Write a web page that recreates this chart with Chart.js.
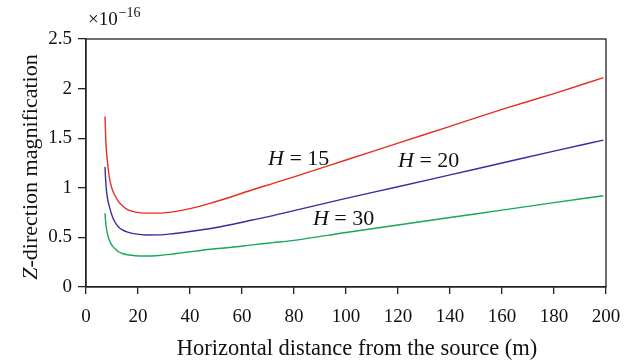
<!DOCTYPE html>
<html>
<head>
<meta charset="utf-8">
<script src="https://cdn.jsdelivr.net/npm/chart.js@4.4.1/dist/chart.umd.min.js"></script>
<style>
html,body{margin:0;padding:0;background:#fff;}
#wrap{width:634px;height:364px;position:relative;}
</style>
</head>
<body>
<div id="wrap"><canvas id="c" width="634" height="364"></canvas></div>
<script>
const distance = [7.3, 7.7, 8.3, 9, 10, 11, 12.5, 14, 16, 19, 23, 28, 34, 40, 48, 56, 64, 72, 80, 100, 120, 140, 160, 180, 199];
const h15 = [1.72, 1.43, 1.25, 1.10, 0.99, 0.93, 0.86, 0.82, 0.78, 0.755, 0.745, 0.745, 0.76, 0.79, 0.845, 0.91, 0.98, 1.045, 1.11, 1.28, 1.45, 1.62, 1.79, 1.95, 2.11];
const h20 = [1.21, 1.02, 0.89, 0.81, 0.72, 0.66, 0.605, 0.575, 0.553, 0.535, 0.524, 0.525, 0.54, 0.56, 0.59, 0.63, 0.675, 0.72, 0.77, 0.894, 1.01, 1.13, 1.25, 1.37, 1.48];
const h30 = [0.743, 0.62, 0.53, 0.47, 0.42, 0.39, 0.355, 0.338, 0.325, 0.315, 0.312, 0.318, 0.335, 0.355, 0.38, 0.40, 0.425, 0.447, 0.47, 0.55, 0.625, 0.70, 0.775, 0.85, 0.92];
const xTicks = [0, 20, 40, 60, 80, 100, 120, 140, 160, 180, 200];
const yTicks = [0, 0.5, 1, 1.5, 2, 2.5];
const seriesNames = ['H = 15', 'H = 20', 'H = 30'];
const labelPos = [{x: 70, y: 1.285}, {x: 120, y: 1.263}, {x: 87.3, y: 0.685}];

const FONT = '"Liberation Serif", "DejaVu Serif", serif';
const toPts = arr => arr.map((v, i) => ({x: distance[i], y: v}));

const decor = {
  id: 'decor',
  afterDatasetsDraw(chart) {
    const ctx = chart.ctx, a = chart.chartArea;
    const xs = chart.scales.x, ys = chart.scales.y;
    ctx.save();
    // box
    ctx.strokeStyle = '#222';
    ctx.lineWidth = 1.3;
    ctx.strokeRect(a.left, a.top, a.right - a.left, a.bottom - a.top);
    // series labels
    ctx.fillStyle = '#111';
    ctx.textBaseline = 'middle';
    ctx.textAlign = 'left';
    seriesNames.forEach((n, i) => {
      const px = xs.getPixelForValue(labelPos[i].x);
      const py = ys.getPixelForValue(labelPos[i].y);
      ctx.font = 'italic 22px ' + FONT;
      ctx.fillText('H', px, py);
      const w = ctx.measureText('H').width;
      ctx.font = '22px ' + FONT;
      ctx.fillText(n.slice(1), px + w, py);
    });
    // exponent
    ctx.textBaseline = 'alphabetic';
    ctx.font = '19px ' + FONT;
    ctx.fillText('\u00d710', 88, 25);
    const w10 = ctx.measureText('\u00d710').width;
    ctx.font = '14px ' + FONT;
    ctx.fillText('\u221216', 88 + w10 + 1, 17);
    // y title
    ctx.translate(31, 167);
    ctx.rotate(-Math.PI / 2);
    ctx.font = 'italic 22px ' + FONT;
    const zw = ctx.measureText('Z').width;
    ctx.font = '22px ' + FONT;
    const rest = '-direction magnification';
    const rw = ctx.measureText(rest).width;
    const start = -(zw + rw) / 2;
    ctx.textBaseline = 'middle';
    ctx.font = 'italic 22px ' + FONT;
    ctx.fillText('Z', start, 0);
    ctx.font = '22px ' + FONT;
    ctx.fillText(rest, start + zw, 0);
    ctx.restore();
    // x title
    ctx.save();
    ctx.fillStyle = '#111';
    ctx.font = '22.5px ' + FONT;
    ctx.textAlign = 'center';
    ctx.textBaseline = 'alphabetic';
    ctx.fillText('Horizontal distance from the source (m)', 357, 355);
    ctx.restore();
  }
};

const mk = (label, data, color) => ({
  label, data: toPts(data), borderColor: color, borderWidth: 1.4,
  pointRadius: 0, fill: false, cubicInterpolationMode: 'monotone'
});

new Chart(document.getElementById('c'), {
  type: 'line',
  data: {
    datasets: [
      mk(seriesNames[0], h15, 'rgb(230,45,35)'),
      mk(seriesNames[1], h20, 'rgb(55,45,160)'),
      mk(seriesNames[2], h30, 'rgb(20,168,90)')
    ]
  },
  options: {
    responsive: false,
    animation: false,
    devicePixelRatio: 1,
    layout: {padding: {left: 0, right: 28, top: 39, bottom: 0}},
    plugins: {legend: {display: false}, tooltip: {enabled: false}},
    scales: {
      x: {
        type: 'linear', min: 0, max: 200,
        afterBuildTicks: s => { s.ticks = xTicks.map(v => ({value: v})); },
        afterFit: s => { s.height = 77; },
        grid: {drawOnChartArea: false, drawTicks: true, tickLength: 7, color: '#222', lineWidth: 1.3},
        border: {display: true, color: '#222', width: 1.3},
        ticks: {font: {family: FONT, size: 19}, color: '#111', padding: 12, maxRotation: 0}
      },
      y: {
        type: 'linear', min: 0, max: 2.5,
        afterBuildTicks: s => { s.ticks = yTicks.map(v => ({value: v})); },
        afterFit: s => { s.width = 86; },
        grid: {drawOnChartArea: false, drawTicks: true, tickLength: 8, color: '#222', lineWidth: 1.3},
        border: {display: true, color: '#222', width: 1.3},
        ticks: {font: {family: FONT, size: 19}, color: '#111', padding: 6, callback: v => String(v)}
      }
    }
  },
  plugins: [decor]
});
</script>
</body>
</html>
